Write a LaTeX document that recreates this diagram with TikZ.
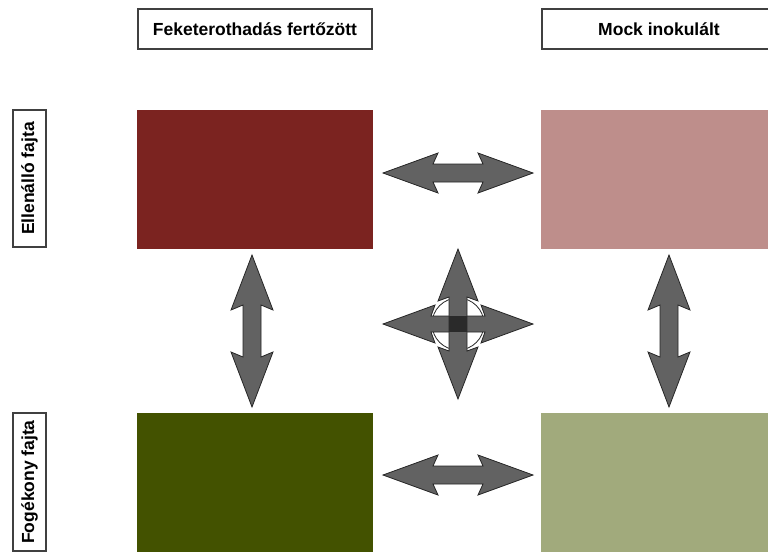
\documentclass[tikz,border=0pt]{standalone}
\usepackage{fontspec}
\setmainfont{Liberation Sans}
\definecolor{rdark}{RGB}{123,35,32}
\definecolor{rlight}{RGB}{190,142,139}
\definecolor{gdark}{RGB}{67,82,0}
\definecolor{glight}{RGB}{161,170,124}
\definecolor{arrgray}{RGB}{98,98,98}
\definecolor{arrcore}{RGB}{42,42,42}
\begin{document}
\begin{tikzpicture}[x=1pt,y=-1pt,
  lbl/.style={draw=black!75, line width=1.2pt, fill=white, inner sep=0pt,
    font=\bfseries\fontsize{17.5}{20}\selectfont},
  panel/.style={rectangle, inner sep=0pt, minimum width=236pt, minimum height=139pt},
  arrstyle/.style={fill=arrgray, draw=black!85, line width=0.8pt, line join=miter},
  harr/.pic={\draw[arrstyle] (-75,0) -- (-20,-20) -- (-25,-9) -- (25,-9) -- (20,-20)
     -- (75,0) -- (20,20) -- (25,9) -- (-25,9) -- (-20,20) -- cycle;},
  varr/.pic={\draw[arrstyle] (0,-76) -- (-21,-21) -- (-9,-26) -- (-9,26) -- (-21,21)
     -- (0,76) -- (21,21) -- (9,26) -- (9,-26) -- (21,-21) -- cycle;}
]
\useasboundingbox (0,0) rectangle (768,552);
\clip (0,0) rectangle (768,552);

% column headers
\node[lbl, minimum width=234pt, minimum height=40pt] (h1) at (255,29) {Feketerothadás fertőzött};
\node[lbl, minimum width=234pt, minimum height=40pt] (h2) at (659,29) {Mock inokulált};

% row labels
\node[lbl, rotate=90, minimum width=137pt, minimum height=33pt] (s1) at (29.5,178.5) {Ellenálló fajta};
\node[lbl, rotate=90, minimum width=138pt, minimum height=33pt] (s2) at (29.5,482) {Fogékony fajta};

% panels
\node[panel, fill=rdark]  (tl) at (255,179.5) {};
\node[panel, fill=rlight] (tr) at (659,179.5) {};
\node[panel, fill=gdark]  (bl) at (255,482.5) {};
\node[panel, fill=glight] (br) at (659,482.5) {};

% arrow centres
\coordinate (atop) at (458,173);
\coordinate (abot) at (458,475);
\coordinate (aleft) at (252,331);
\coordinate (aright) at (669,331);
\coordinate (ac) at (458,324);

\pic at (atop) {harr};
\pic at (abot) {harr};
\pic at (aleft) {varr};
\pic at (aright) {varr};

% central cross
\begin{scope}[shift={(ac)}]
  \draw[fill=white, draw=black!85, line width=0.8pt] (0,0) circle[radius=26];
  \draw[arrstyle] (-75,0) -- (-23,-19) -- (-27,-8) -- (27,-8) -- (23,-19)
     -- (75,0) -- (23,19) -- (27,8) -- (-27,8) -- (-23,19) -- cycle;
  \draw[arrstyle] (0,-75) -- (-20,-23) -- (-9,-27) -- (-9,27) -- (-20,23)
     -- (0,75) -- (20,23) -- (9,27) -- (9,-27) -- (20,-23) -- cycle;
  \fill[arrcore] (-9,-8) rectangle (9,8);
\end{scope}
\end{tikzpicture}
\end{document}
